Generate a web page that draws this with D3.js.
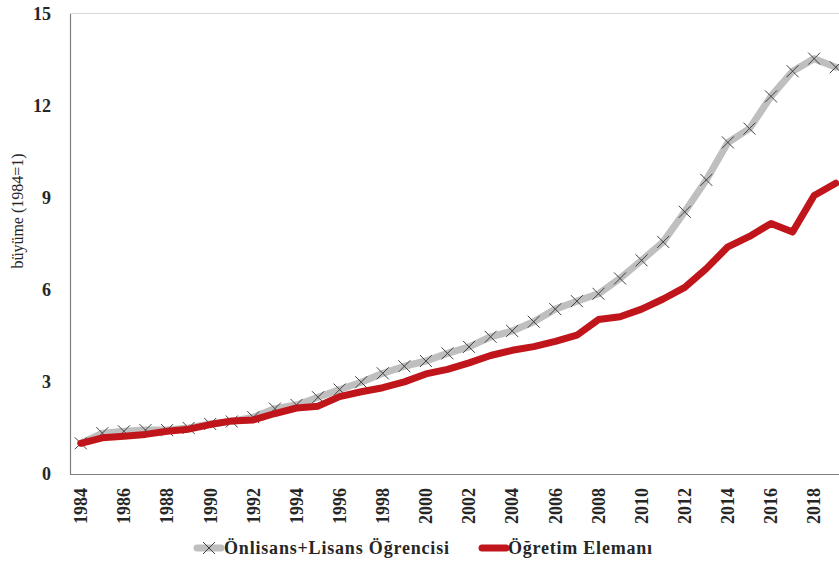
<!DOCTYPE html>
<html>
<head>
<meta charset="utf-8">
<script src="https://cdn.jsdelivr.net/npm/d3@7"></script>
<style>
  body { margin: 0; background: #fff; }
  svg { display: block; }
  text { font-family: "Liberation Serif", "Times New Roman", serif; fill: #262626; }
</style>
</head>
<body>
<svg id="chart" width="839" height="562"></svg>
<script>
const years = d3.range(1984, 2020);
const students = [1.0, 1.33, 1.39, 1.43, 1.43, 1.5, 1.63, 1.71, 1.85, 2.13, 2.25, 2.5, 2.75, 2.99, 3.28, 3.51, 3.68, 3.93, 4.14, 4.47, 4.66, 4.96, 5.37, 5.63, 5.87, 6.37, 6.96, 7.56, 8.54, 9.58, 10.8, 11.25, 12.3, 13.12, 13.53, 13.25];
const faculty = [1.0, 1.18, 1.23, 1.29, 1.39, 1.46, 1.61, 1.73, 1.76, 1.97, 2.15, 2.21, 2.52, 2.68, 2.81, 3.0, 3.26, 3.41, 3.62, 3.86, 4.03, 4.15, 4.32, 4.52, 5.03, 5.12, 5.37, 5.7, 6.08, 6.69, 7.4, 7.74, 8.16, 7.88, 9.07, 9.47];
const yTicks = [0, 3, 6, 9, 12, 15];
const xTickYears = years.filter(y => y % 2 === 0);
const seriesNames = ["Önlisans+Lisans Öğrencisi", "Öğretim Elemanı"];
const yTitle = "büyüme (1984=1)";

(function () {
const svg = d3.select("#chart");
const mLeft = 70, mTop = 13.5, mBottom = 474;
const band = 21.57;
const x = d3.scaleBand().domain(years).range([mLeft, mLeft + band * years.length]).padding(0);
const cx = yr => x(yr) + x.bandwidth() / 2;
const y = d3.scaleLinear().domain([0, 15]).range([mBottom, mTop]);

// top border line
svg.append("line").attr("x1", mLeft).attr("x2", 839).attr("y1", y(15)).attr("y2", y(15))
  .attr("stroke", "#d9d9d9").attr("stroke-width", 1);

// y axis
const yAxis = d3.axisLeft(y).tickValues(yTicks).tickSize(0).tickPadding(19);
const gy = svg.append("g").attr("transform", `translate(${mLeft},0)`).call(yAxis);
gy.select(".domain").attr("stroke", "#7f7f7f").attr("stroke-width", 1.2);
gy.selectAll("text").style("font-size", "18px").style("font-weight", "bold").attr("fill", "#262626")
  .style("font-family", "'Liberation Serif', serif");

// x axis
const xAxis = d3.axisBottom(x).tickValues(xTickYears).tickSize(0).tickFormat(d3.format("d"));
const gx = svg.append("g").attr("transform", `translate(0,${mBottom})`).call(xAxis);
gx.select(".domain").attr("stroke", "#7f7f7f").attr("stroke-width", 1.2).attr("d", `M${mLeft},0.5H839`);
gx.selectAll("text")
  .style("font-size", "18px").style("font-weight", "bold").attr("fill", "#262626")
  .style("font-family", "'Liberation Serif', serif")
  .attr("transform", "rotate(-90)")
  .attr("text-anchor", "end").attr("dy", "0.35em").attr("x", -14).attr("y", 0);

// y title
svg.append("text").attr("transform", `translate(23,211) rotate(-90)`)
  .attr("text-anchor", "middle").style("font-size", "16px").text(yTitle);

const line = d3.line().x((d, i) => cx(years[i])).y(d => y(d));

svg.append("path").datum(students).attr("d", line).attr("fill", "none")
  .attr("stroke", "#bfbfbf").attr("stroke-width", 7).attr("stroke-linejoin", "round").attr("stroke-linecap", "round");

const crossSize = 6;
function drawCross(g, px, py) {
  g.append("path").attr("d", `M${px - crossSize},${py - crossSize}L${px + crossSize},${py + crossSize}M${px - crossSize},${py + crossSize}L${px + crossSize},${py - crossSize}`)
    .attr("stroke", "#3f3f3f").attr("stroke-width", 1).attr("fill", "none");
}
const mk = svg.append("g");
students.forEach((v, i) => drawCross(mk, cx(years[i]), y(v)));

svg.append("path").datum(faculty).attr("d", line).attr("fill", "none")
  .attr("stroke", "#c0161b").attr("stroke-width", 7).attr("stroke-linejoin", "round").attr("stroke-linecap", "round");

// legend
const lg = svg.append("g");
const ly = 548;
lg.append("line").attr("x1", 197).attr("x2", 221).attr("y1", ly).attr("y2", ly)
  .attr("stroke", "#bfbfbf").attr("stroke-width", 7).attr("stroke-linecap", "round");
drawCross(lg, 209, ly);
lg.append("text").attr("x", 224).attr("y", ly).attr("dy", "0.35em")
  .attr("textLength", 225).attr("lengthAdjust", "spacing")
  .style("font-size", "18px").style("font-weight", "bold").text(seriesNames[0]);
lg.append("line").attr("x1", 482).attr("x2", 506).attr("y1", ly).attr("y2", ly)
  .attr("stroke", "#c0161b").attr("stroke-width", 7).attr("stroke-linecap", "round");
lg.append("text").attr("x", 508).attr("y", ly).attr("dy", "0.35em")
  .attr("textLength", 144).attr("lengthAdjust", "spacing")
  .style("font-size", "18px").style("font-weight", "bold").text(seriesNames[1]);
})();
</script>
</body>
</html>
